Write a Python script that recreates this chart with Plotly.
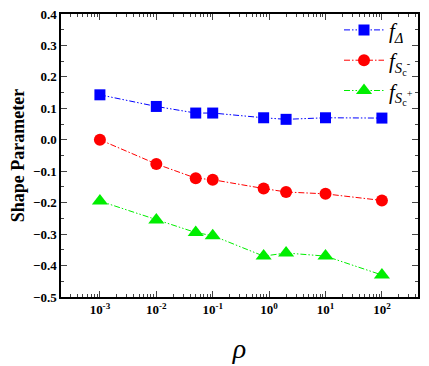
import plotly.graph_objects as go

# rho values and shape parameters
rho = [0.001, 0.01, 0.05, 0.1, 0.8, 2, 10, 100]
f_delta = [0.143, 0.106, 0.085, 0.085, 0.070, 0.065, 0.070, 0.069]
f_sc_minus = [0.0, -0.077, -0.122, -0.127, -0.155, -0.166, -0.172, -0.193]
f_sc_plus = [-0.195, -0.255, -0.295, -0.305, -0.370, -0.360, -0.370, -0.430]

x_tickvals = [1e-3, 1e-2, 1e-1, 1, 10, 100]
x_ticktext = ['10<sup>-3</sup>', '10<sup>-2</sup>', '10<sup>-1</sup>',
              '10<sup>0</sup>', '10<sup>1</sup>', '10<sup>2</sup>']
y_tickvals = [0.4, 0.3, 0.2, 0.1, 0.0, -0.1, -0.2, -0.3, -0.4, -0.5]

names = ['<i>f</i><sub><i>Δ</i></sub>',
         '<i>f</i><sub><i>S</i><sub>c</sub><sup>-</sup></sub>',
         '<i>f</i><sub><i>S</i><sub>c</sub><sup>+</sup></sub>']

dash_dd = '6px,2px,1.5px,2px,1.5px,2px'
dash_d = '6px,2px,1.5px,2px'

fig = go.Figure()
fig.add_trace(go.Scatter(x=rho, y=f_delta, mode='lines+markers', name=names[0],
                         line=dict(color='#0000ff', width=1, dash=dash_dd),
                         marker=dict(symbol='square', size=11, color='#0000ff')))
fig.add_trace(go.Scatter(x=rho, y=f_sc_minus, mode='lines+markers', name=names[1],
                         line=dict(color='#ff0000', width=1, dash=dash_d),
                         marker=dict(symbol='circle', size=12, color='#ff0000')))
fig.add_trace(go.Scatter(x=rho, y=f_sc_plus, mode='lines+markers', name=names[2],
                         line=dict(color='#00ee00', width=1, dash=dash_dd),
                         marker=dict(symbol='triangle-up', size=14, color='#00ee00')))

font = 'Liberation Serif'

# the page body has an 8px margin, so the margins below are shifted to compensate
fig.update_layout(
    width=429, height=366,
    margin=dict(l=53, r=19, t=2, b=77),
    plot_bgcolor='white', paper_bgcolor='white',
    font=dict(family=font, color='black'),
    showlegend=True,
    legend=dict(x=1.0, y=1.015, xanchor='right', yanchor='top',
                bgcolor='rgba(0,0,0,0)', font=dict(size=21, family=font),
                tracegroupgap=0, itemwidth=40),
    xaxis=dict(type='log', range=[-3.69, 2.64], automargin=False,
               tickvals=x_tickvals, ticktext=x_ticktext, ticklabeloverflow='allow',
               tickfont=dict(size=13, family=font, weight='bold'),
               ticks='inside', ticklen=6, tickwidth=1,
               minor=dict(ticks='inside', ticklen=3, dtick='D1', showgrid=False),
               showline=True, linecolor='black', linewidth=1.5, mirror='allticks',
               showgrid=False, zeroline=False,
               title=dict(text='<i>ρ</i>', font=dict(size=28, family=font), standoff=22)),
    yaxis=dict(range=[-0.5, 0.4], tickvals=y_tickvals, tickformat='.1f', automargin=False,
               ticklabeloverflow='allow',
               tickfont=dict(size=13, family=font, weight='bold'),
               ticks='inside', ticklen=6, tickwidth=1,
               minor=dict(ticks='inside', ticklen=3, dtick=0.05, showgrid=False),
               showline=True, linecolor='black', linewidth=1.5, mirror='allticks',
               showgrid=False, zeroline=False,
               title=dict(text='Shape Parameter', font=dict(size=18, family=font, weight='bold'),
                          standoff=4)),
)

fig.write_html('out.html')
